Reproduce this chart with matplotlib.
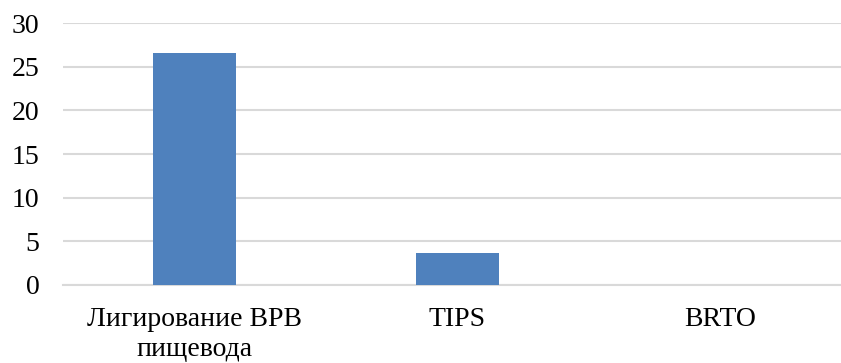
import matplotlib
matplotlib.use("Agg")
import matplotlib.pyplot as plt

plt.rcParams['font.family'] = ['Liberation Serif', 'DejaVu Serif']

categories = ["Лигирование ВРВ\nпищевода", "TIPS", "BRTO"]
values = [26.6, 3.7, 0]
yticks = [0, 5, 10, 15, 20, 25, 30]

fig = plt.figure(figsize=(8.41, 3.63), dpi=100)
# axes box in pixels: x 63..852 (clipped at 841), y 23..285
ax = fig.add_axes([63 / 841, 1 - 285 / 363, 778 / 841, 262 / 363])

x = range(len(categories))
ax.bar(x, values, width=0.316, color='#4f81bd', zorder=3)

ax.set_xlim(-0.5, 2.458)
ax.set_ylim(0, 30)
ax.set_yticks(yticks)
ax.set_yticklabels([str(v) for v in yticks], fontsize=20)
ax.set_xticks(list(x))
ax.set_xticklabels(categories, fontsize=20, linespacing=1.25)

ax.yaxis.grid(True, color='#d9d9d9', linewidth=1.5, zorder=0)
ax.tick_params(axis='y', length=0, pad=17)
ax.tick_params(axis='x', length=0, pad=16)
for s in ['top', 'right', 'left']:
    ax.spines[s].set_visible(False)
ax.spines['bottom'].set_color('#d9d9d9')
ax.spines['bottom'].set_linewidth(1.5)

fig.savefig('out.png', dpi=100)
